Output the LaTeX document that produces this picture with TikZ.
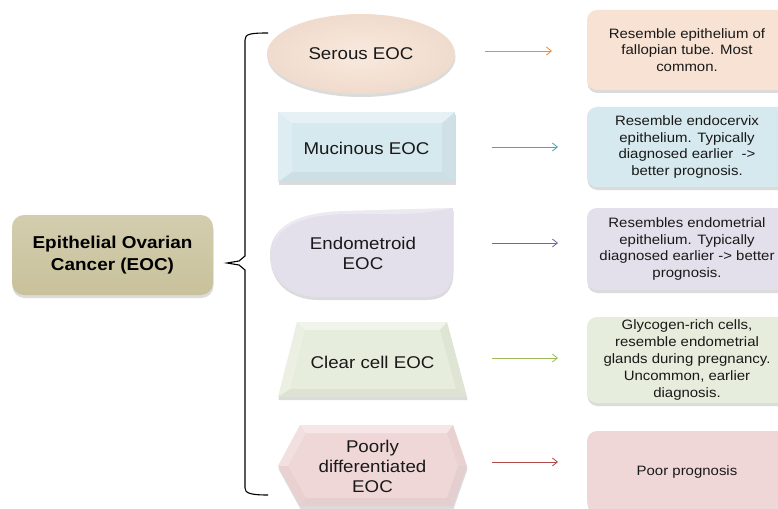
\documentclass[tikz,border=0pt]{standalone}
\usepackage{fontspec}
\setmainfont{Liberation Sans}[FakeStretch=1.1]
\usetikzlibrary{shadows,arrows.meta,shapes.geometric}
\definecolor{mainC}{HTML}{C8C19B}
\definecolor{serC}{HTML}{F7E2D3}
\definecolor{mucC}{HTML}{D6E9EF}
\definecolor{endC}{HTML}{E3DFEB}
\definecolor{clrC}{HTML}{E6EDDC}
\definecolor{porC}{HTML}{EFD7D8}
\definecolor{aOr}{HTML}{F08A3E}
\definecolor{aTe}{HTML}{4AA3B8}
\definecolor{aPu}{HTML}{7A63A0}
\definecolor{aGr}{HTML}{9BBB59}
\definecolor{aRe}{HTML}{B04A48}
\begin{document}
\begin{tikzpicture}[x=1pt,y=-1pt,
  shad/.style={drop shadow={shadow xshift=0.5pt,shadow yshift=-3pt,fill=black!25,opacity=0.55}},
  lefttxt/.style={font=\fontsize{17}{20}\selectfont,align=center,text=black!90},
  righttxt/.style={font=\fontsize{13.6}{16.8}\selectfont,align=center,text=black!90},
  rbox/.style={rectangle,rounded corners=10pt,minimum width=201pt,minimum height=80pt,shad,inner sep=0pt},
  conn/.style={line width=0.8pt,-{Straight Barb[length=5pt,width=8pt]}},
  brace/.style={line width=1.1pt,black},
  bevel/.style={white,opacity=0.4}
]
\clip (0,0) rectangle (778,508);
\fill[white] (0,0) rectangle (778,508);

% main node
\node[rectangle,rounded corners=12pt,minimum width=201pt,minimum height=80pt,
      top color=mainC!80!white,bottom color=mainC,middle color=mainC!90!white,shad,
      font=\bfseries\fontsize{17.2}{21.5}\selectfont,align=center,text=black] (eoc) at (112.5,255)
      {Epithelial Ovarian\\Cancer (EOC)};

% brace
\coordinate (bt) at (227,263);
\coordinate (btop) at (268,33);
\coordinate (bbot) at (268,495);
\draw[brace] (btop) .. controls (250,33) and (245,34) .. (245,40) -- (245,256) -- (239,261) -- (bt)
  -- (239,265) -- (245,270) -- (245,488) .. controls (245,493) and (250,495) .. (bbot);

% Serous
\node[ellipse,minimum width=188pt,minimum height=80pt,inner color=serC!75!white,outer color=serC!97!black,shad,lefttxt,inner sep=0pt] (serous) at (361,54) {Serous EOC};

% Mucinous (bevel rectangle)
\fill[mucC,shad] (278,112) rectangle (455,182);
\fill[bevel] (278,112) -- (455,112) -- (442,123) -- (292,123) -- cycle;
\fill[white,opacity=0.2] (278,112) -- (292,123) -- (292,172) -- (278,182) -- cycle;
\fill[black,opacity=0.03] (455,112) -- (442,123) -- (442,172) -- (455,182) -- cycle;
\fill[black,opacity=0.04] (278,182) -- (292,172) -- (442,172) -- (455,182) -- cycle;
\node[lefttxt] (mucinous) at (366.5,148) {Mucinous EOC};

% Endometroid
\fill[endC,shad] (453,208) -- (453,268) .. controls (453,287) and (445,297) .. (425,297) -- (318,297)
  .. controls (288,297) and (270,278) .. (270,255) .. controls (270,228) and (295,212) .. (345,211) -- cycle;
\fill[white,opacity=0.35] (453,208) .. controls (420,215) and (400,214) .. (345,214) .. controls (300,215) and (278,228) .. (274,245)
  .. controls (276,225) and (300,211) .. (345,211) -- cycle;
\node[lefttxt] (endo) at (363,253) {Endometroid\\EOC};

% Clear cell (trapezoid with bevel)
\fill[clrC,shad] (297,322) -- (447,322) -- (467,397) -- (278,397) -- cycle;
\fill[bevel] (297,322) -- (447,322) -- (440,330) -- (305,330) -- cycle;
\fill[white,opacity=0.2] (297,322) -- (305,330) -- (290,389) -- (278,397) -- cycle;
\fill[black,opacity=0.03] (447,322) -- (440,330) -- (456,389) -- (467,397) -- cycle;
\fill[black,opacity=0.04] (278,397) -- (290,389) -- (456,389) -- (467,397) -- cycle;
\node[lefttxt] (clear) at (372.5,362) {Clear cell EOC};

% Poorly differentiated (hexagon with bevel)
\fill[porC,shad] (300,425) -- (453,425) -- (467,466) -- (453,506) -- (300,506) -- (278,466) -- cycle;
\fill[bevel] (300,425) -- (453,425) -- (447,433) -- (306,433) -- cycle;
\fill[white,opacity=0.2] (300,425) -- (306,433) -- (288,466) -- (278,466) -- cycle;
\fill[black,opacity=0.025] (278,466) -- (288,466) -- (306,498) -- (300,506) -- cycle;
\fill[black,opacity=0.025] (453,425) -- (447,433) -- (458,466) -- (467,466) -- cycle;
\fill[black,opacity=0.04] (467,466) -- (458,466) -- (447,498) -- (453,506) -- cycle;
\fill[black,opacity=0.04] (300,506) -- (306,498) -- (447,498) -- (453,506) -- cycle;
\node[lefttxt] (poor) at (372.5,466) {Poorly\\differentiated\\EOC};

% right boxes
\node[rbox,fill=serC] (r1) at (687.5,50) {};
\node[righttxt] (t1) at (687,50) {Resemble epithelium of\\fallopian tube. Most\\common.};
\node[rbox,fill=mucC] (r2) at (687.5,147) {};
\node[righttxt] (t2) at (687,147) {Resemble endocervix\\epithelium. Typically\\diagnosed earlier~~->\\better prognosis.};
\node[rbox,fill=endC,minimum height=82pt] (r3) at (687.5,249) {};
\node[righttxt] (t3) at (687,249) {Resembles endometrial\\epithelium. Typically\\diagnosed earlier -> better\\prognosis.};
\node[rbox,fill=clrC,minimum height=86pt] (r4) at (687.5,360) {};
\node[righttxt] (t4) at (687,360) {Glycogen-rich cells,\\resemble endometrial\\glands during pregnancy.\\Uncommon, earlier\\diagnosis.};
\node[rbox,fill=porC] (r5) at (687.5,471) {};
\node[righttxt] (t5) at (687,472) {Poor prognosis};

% arrows
\coordinate (a1s) at (485,51);  \coordinate (a1e) at (552,51);
\coordinate (a2s) at (492,147); \coordinate (a2e) at (558,147);
\coordinate (a3s) at (492,243); \coordinate (a3e) at (558,243);
\coordinate (a4s) at (492,358); \coordinate (a4e) at (558,358);
\coordinate (a5s) at (492,462); \coordinate (a5e) at (558,462);
\draw[conn,aOr] (a1s) -- (a1e);
\draw[conn,aTe] (a2s) -- (a2e);
\draw[conn,aPu] (a3s) -- (a3e);
\draw[conn,aGr] (a4s) -- (a4e);
\draw[conn,aRe] (a5s) -- (a5e);
\end{tikzpicture}
\end{document}
